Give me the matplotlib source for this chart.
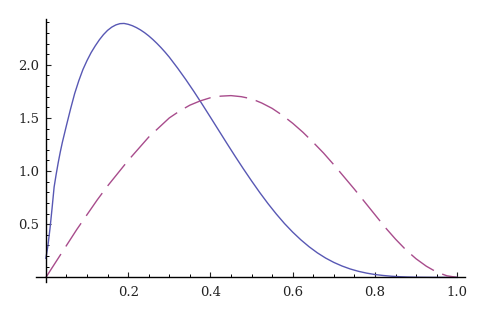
import matplotlib.pyplot as plt
from matplotlib.ticker import MultipleLocator, FixedLocator

# solid curve
solid_x = [0.0, 0.005, 0.01, 0.015, 0.02, 0.025, 0.03, 0.035, 0.04, 0.05, 0.06, 0.07,
           0.08, 0.09, 0.1, 0.11, 0.12, 0.13, 0.14, 0.15, 0.16, 0.17, 0.18, 0.19, 0.2,
           0.21, 0.22, 0.23, 0.24, 0.25, 0.26, 0.27, 0.28, 0.29, 0.3, 0.32, 0.34, 0.36,
           0.38, 0.4, 0.42, 0.44, 0.46, 0.48, 0.5, 0.52, 0.54, 0.56, 0.58, 0.6, 0.62,
           0.64, 0.66, 0.68, 0.7, 0.72, 0.74, 0.76, 0.78, 0.8, 0.82, 0.84, 0.86, 0.88,
           0.9, 0.94, 1.0]
solid_y = [0.18, 0.30, 0.46, 0.65, 0.85, 0.97, 1.08, 1.18, 1.27, 1.43, 1.585, 1.73,
           1.85, 1.955, 2.04, 2.115, 2.178, 2.235, 2.284, 2.324, 2.354, 2.375, 2.387, 2.389, 2.381,
           2.368, 2.35, 2.328, 2.302, 2.272, 2.238, 2.201, 2.161, 2.118, 2.072, 1.97, 1.862, 1.748,
           1.629, 1.507, 1.384, 1.261, 1.14, 1.022, 0.908, 0.798, 0.694, 0.597, 0.507, 0.426, 0.353,
           0.288, 0.231, 0.182, 0.141, 0.107, 0.079, 0.057, 0.04, 0.027, 0.018, 0.011, 0.0065, 0.0035,
           0.0018, 0.0003, 0.0]

# dashed curve
dash_x = [0.0, 0.025, 0.05, 0.075, 0.1, 0.125, 0.15, 0.175, 0.2, 0.225, 0.25, 0.275,
          0.3, 0.325, 0.35, 0.375, 0.4, 0.425, 0.45, 0.475, 0.5, 0.525, 0.55, 0.575,
          0.6, 0.625, 0.65, 0.675, 0.7, 0.725, 0.75, 0.775, 0.8, 0.825, 0.85, 0.875,
          0.9, 0.925, 0.95, 0.975, 1.0]
dash_y = [0.0, 0.15, 0.30, 0.45, 0.59, 0.73, 0.86, 0.98, 1.10, 1.21, 1.32, 1.41,
          1.50, 1.565, 1.62, 1.66, 1.69, 1.705, 1.71, 1.70, 1.68, 1.64, 1.59, 1.525,
          1.45, 1.365, 1.27, 1.17, 1.06, 0.945, 0.83, 0.71, 0.59, 0.47, 0.36, 0.26,
          0.175, 0.105, 0.05, 0.015, 0.0]

x_ticks = [0.2, 0.4, 0.6, 0.8, 1.0]
y_ticks = [0.5, 1.0, 1.5, 2.0]

plt.rcParams['font.family'] = ['DejaVu Serif']

fig = plt.figure(figsize=(4.79, 3.18), dpi=100)
ax = fig.add_axes([0.0752, 0.113, 0.8956, 0.827])

ax.plot(solid_x, solid_y, color='#5858b4', lw=1.0)
ax.plot(dash_x, dash_y, color='#a84c8c', lw=1.0, dashes=(20, 6.5))

ax.set_xlim(-0.024, 1.019)
ax.set_ylim(-0.044, 2.43)

for s in ['top', 'right']:
    ax.spines[s].set_visible(False)
ax.spines['left'].set_position(('data', 0))
ax.spines['bottom'].set_position(('data', 0))
ax.spines['left'].set_linewidth(1.0)
ax.spines['bottom'].set_linewidth(1.0)

ax.xaxis.set_major_locator(FixedLocator(x_ticks))
ax.xaxis.set_minor_locator(MultipleLocator(0.05))
ax.yaxis.set_major_locator(FixedLocator(y_ticks))
ax.yaxis.set_minor_locator(MultipleLocator(0.1))
ax.set_xticklabels(['%.1f' % v for v in x_ticks])
ax.set_yticklabels(['%.1f' % v for v in y_ticks])

ax.tick_params(which='major', direction='in', length=3.8, width=0.8,
               labelsize=9.5, colors='#222222')
ax.tick_params(which='minor', direction='in', length=2.3, width=0.7)
ax.tick_params(axis='x', which='major', pad=6)
ax.tick_params(axis='y', which='major', pad=5)

fig.savefig('out.png', dpi=100)
